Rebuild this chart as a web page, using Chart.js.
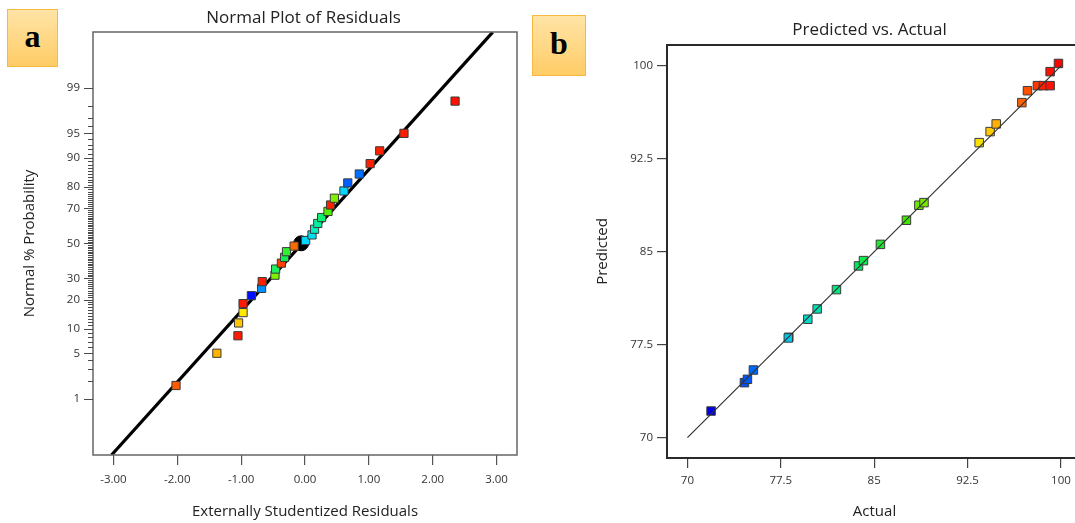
<!DOCTYPE html>
<html>
<head>
<meta charset="utf-8">
<script src="https://cdn.jsdelivr.net/npm/chart.js@4.4.1/dist/chart.umd.min.js"></script>
<style>
  html, body { margin: 0; padding: 0; background: #fff; width: 1075px; height: 523px; overflow: hidden; position: relative; }
  .panel { position: absolute; top: 0; }
  #panelA { left: 0; }
  #panelB { left: 580px; }
  .tag {
    position: absolute; box-sizing: border-box; z-index: 5;
    border: 1.5px solid #f6b941;
    background: linear-gradient(#ffe4a6, #ffcc66);
    font: bold 32px "Liberation Serif", "DejaVu Serif", serif; color: #000;
    display: flex; align-items: center; justify-content: center; padding-bottom: 4px;
  }
  #tagA { left: 7px; top: 9px; width: 51px; height: 58px; }
  #tagB { left: 532px; top: 15px; width: 54px; height: 61px; }
</style>
</head>
<body>
<div class="panel" id="panelA"><canvas id="normalPlot" width="540" height="523"></canvas></div>
<div class="panel" id="panelB"><canvas id="predActual" width="540" height="523"></canvas></div>
<div class="tag" id="tagA">a</div>
<div class="tag" id="tagB">b</div>
<script>
// ---------- (a) normal plot of residuals ----------
const residuals = [-2.02, -1.38, -1.05, -1.04, -0.97, -0.97, -0.84, -0.68, -0.67, -0.47,
                   -0.46, -0.37, -0.32, -0.29, -0.17, 0.01, 0.11, 0.15, 0.20, 0.26,
                   0.36, 0.40, 0.46, 0.61, 0.67, 0.85, 1.02, 1.17, 1.55, 2.35];
const normalPct = [1.67, 5.00, 8.33, 11.67, 15.00, 18.33, 21.67, 25.00, 28.33, 31.67,
                   35.00, 38.33, 41.67, 45.00, 48.33, 51.67, 55.00, 58.33, 61.67, 65.00,
                   68.33, 71.67, 75.00, 78.33, 81.67, 85.00, 88.33, 91.67, 95.00, 98.33];
const residualColors = ['#ff5a00', '#ffb300', '#ff1a00', '#ffc400', '#ffea00', '#ff1a00', '#0010ff', '#0090ff', '#ff2000', '#7ff000',
                        '#20f060', '#ff4000', '#10f050', '#30f030', '#ff6a00', '#00d8ff', '#00e0f0', '#00f0c0', '#00f0a0', '#10f070',
                        '#50f000', '#ff2000', '#80f000', '#00d8ff', '#0060ff', '#0070ff', '#ff2000', '#ff2000', '#ff2000', '#ff1000'];
const centerResidual = [-0.06];
const centerPct = [50];
const fitResidual = [-3.03, 2.94];
const fitPct = [0.077, 99.921];
const pctTicks = [1, 5, 10, 20, 30, 50, 70, 80, 90, 95, 99];
const residualTicks = [-3, -2, -1, 0, 1, 2, 3];

// ---------- (b) predicted vs actual ----------
const actual = [71.9, 74.58, 74.82, 75.3, 78.14, 78.1, 79.67, 80.42, 81.97, 83.74,
                84.14, 85.5, 87.59, 88.59, 89.0, 93.43, 94.31, 94.8, 96.86, 97.31,
                98.11, 98.59, 99.13, 99.13, 99.8];
const predicted = [72.15, 74.44, 74.71, 75.46, 78.1, 78.05, 79.56, 80.39, 81.95, 83.86,
                   84.29, 85.6, 87.55, 88.76, 88.97, 93.81, 94.7, 95.32, 97.04, 98.0,
                   98.41, 98.41, 98.41, 99.54, 100.2];
const actualColors = ['#0000e0', '#0050f0', '#0058f0', '#0068f8', '#00c0e0', '#00c8e8', '#00dcc8', '#00e0b0', '#00e880', '#00e860',
                      '#10e850', '#20e830', '#40e800', '#70e800', '#78e800', '#f8e000', '#ffc800', '#ffb000', '#ff6000', '#ff5000',
                      '#ff3800', '#ff2000', '#ff1000', '#ff1000', '#ff0000'];
const diagonal = [70, 100];
const responseTicks = [70, 77.5, 85, 92.5, 100];

const FONT = '"Open Sans", "Noto Sans", sans-serif';

// inverse normal CDF (Acklam), used for the probability axis
function probit(p) {
  const a = [-3.969683028665376e+01, 2.209460984245205e+02, -2.759285104469687e+02, 1.383577518672690e+02, -3.066479806614716e+01, 2.506628277459239e+00];
  const b = [-5.447609879822406e+01, 1.615858368580409e+02, -1.556989798598866e+02, 6.680131188771972e+01, -1.328068155288572e+01];
  const c = [-7.784894002430293e-03, -3.223964580411365e-01, -2.400758277161838e+00, -2.549732539343734e+00, 4.374664141464968e+00, 2.938163982698783e+00];
  const d = [7.784695709041462e-03, 3.224671290700398e-01, 2.445134137142996e+00, 3.754408661907416e+00];
  const lo = 0.02425, hi = 1 - lo;
  let q, r;
  if (p < lo) {
    q = Math.sqrt(-2 * Math.log(p));
    return (((((c[0]*q+c[1])*q+c[2])*q+c[3])*q+c[4])*q+c[5]) / ((((d[0]*q+d[1])*q+d[2])*q+d[3])*q+1);
  }
  if (p <= hi) {
    q = p - 0.5; r = q * q;
    return (((((a[0]*r+a[1])*r+a[2])*r+a[3])*r+a[4])*r+a[5])*q / (((((b[0]*r+b[1])*r+b[2])*r+b[3])*r+b[4])*r+1);
  }
  q = Math.sqrt(-2 * Math.log(1 - p));
  return -(((((c[0]*q+c[1])*q+c[2])*q+c[3])*q+c[4])*q+c[5]) / ((((d[0]*q+d[1])*q+d[2])*q+d[3])*q+1);
}
const toZ = pct => probit(pct / 100);

// ---------- plugins ----------
const frame = {
  id: 'frame',
  afterDatasetsDraw(chart, args, opts) {
    const { ctx, chartArea: a } = chart;
    ctx.save();
    ctx.strokeStyle = opts.color;
    ctx.lineWidth = opts.width;
    ctx.strokeRect(a.left, a.top, a.right - a.left, a.bottom - a.top);
    ctx.restore();
  }
};

const panelTitle = {
  id: 'panelTitle',
  afterDraw(chart, args, opts) {
    if (!opts.text) return;
    const { ctx, chartArea: a } = chart;
    ctx.save();
    ctx.font = opts.size + 'px ' + FONT;
    ctx.fillStyle = '#222';
    ctx.textAlign = 'center';
    ctx.textBaseline = 'middle';
    ctx.fillText(opts.text, (a.left + a.right) / 2 + opts.dx, opts.y);
    ctx.restore();
  }
};

// percent ticks 1..99 on the probability axis, longer where labelled
const probTicks = {
  id: 'probTicks',
  afterDraw(chart) {
    const { ctx, chartArea, scales: { y } } = chart;
    ctx.save();
    ctx.strokeStyle = '#4a4a4a';
    ctx.lineWidth = 1;
    for (let p = 1; p <= 99; p++) {
      const py = Math.round(y.getPixelForValue(toZ(p))) + 0.5;
      const len = pctTicks.includes(p) ? 9 : 5;
      ctx.beginPath();
      ctx.moveTo(chartArea.left - len, py);
      ctx.lineTo(chartArea.left, py);
      ctx.stroke();
    }
    ctx.restore();
  }
};

Chart.register(frame, panelTitle);

const squarePoint = { pointStyle: 'rect', borderColor: '#3a3a3a', borderWidth: 1 };

// ---------- chart a ----------
new Chart(document.getElementById('normalPlot'), {
  type: 'scatter',
  data: {
    datasets: [
      {
        ...squarePoint,
        data: residuals.map((r, i) => ({ x: r, y: toZ(normalPct[i]) })),
        backgroundColor: residualColors,
        pointRadius: 5.8,
        order: 0
      },
      {
        data: centerResidual.map((r, i) => ({ x: r, y: toZ(centerPct[i]) })),
        backgroundColor: '#000',
        borderColor: '#000',
        pointRadius: 7.5,
        order: 1
      },
      {
        data: fitResidual.map((r, i) => ({ x: r, y: toZ(fitPct[i]) })),
        showLine: true,
        borderColor: '#000',
        borderWidth: 3.2,
        pointRadius: 0,
        order: 2
      }
    ]
  },
  options: {
    responsive: false,
    animation: false,
    events: [],
    layout: { padding: { top: 32, right: 23, left: 0, bottom: 0 } },
    plugins: {
      legend: { display: false },
      tooltip: { enabled: false },
      frame: { color: '#666', width: 1.5 },
      panelTitle: { text: 'Normal Plot of Residuals', size: 17, dx: -1.5, y: 18 }
    },
    scales: {
      x: {
        type: 'linear', min: -3.32, max: 3.32, bounds: 'data',
        afterBuildTicks: s => { s.ticks = residualTicks.map(v => ({ value: v })); },
        afterFit: s => { s.height = 68; },
        border: { display: false },
        grid: { drawOnChartArea: false, drawTicks: true, tickLength: 10, color: '#555', lineWidth: 1.2 },
        ticks: { autoSkip: false, maxRotation: 0, padding: 8, color: '#333', font: { family: FONT, size: 11.5 },
                 callback: v => v.toFixed(2) },
        title: { display: true, text: 'Externally Studentized Residuals', color: '#222',
                 font: { family: FONT, size: 15 }, padding: { top: 0, bottom: 2 } }
      },
      y: {
        type: 'linear', min: -3.167, max: 3.161, bounds: 'data',
        afterBuildTicks: s => { s.ticks = pctTicks.map(p => ({ value: toZ(p) })); },
        afterFit: s => { s.width = 93; },
        border: { display: false },
        grid: { drawOnChartArea: false, drawTicks: false },
        ticks: { autoSkip: false, padding: 13, color: '#333', font: { family: FONT, size: 11.5 },
                 callback: (v, i) => String(pctTicks[i]) },
        title: { display: true, text: 'Normal % Probability', color: '#222',
                 font: { family: FONT, size: 15 }, padding: { top: 21, bottom: 0 } }
      }
    }
  },
  plugins: [probTicks]
});

// ---------- chart b ----------
new Chart(document.getElementById('predActual'), {
  type: 'scatter',
  data: {
    datasets: [
      {
        data: diagonal.map(v => ({ x: v, y: v })),
        showLine: true,
        borderColor: '#333',
        borderWidth: 1.2,
        pointRadius: 0,
        order: 0
      },
      {
        ...squarePoint,
        data: actual.map((a, i) => ({ x: a, y: predicted[i] })),
        backgroundColor: actualColors,
        pointRadius: 6,
        order: 1
      }
    ]
  },
  options: {
    responsive: false,
    animation: false,
    events: [],
    layout: { padding: { top: 45, right: 38, left: 0, bottom: 0 } },
    plugins: {
      legend: { display: false },
      tooltip: { enabled: false },
      frame: { color: '#2a2a2a', width: 2 },
      panelTitle: { text: 'Predicted vs. Actual', size: 17, dx: -5, y: 30 }
    },
    scales: {
      x: {
        type: 'linear', min: 68.36, max: 101.69, bounds: 'data',
        afterBuildTicks: s => { s.ticks = responseTicks.map(v => ({ value: v })); },
        afterFit: s => { s.height = 65; },
        border: { display: false },
        grid: { drawOnChartArea: false, drawTicks: true, tickLength: 10, color: '#444', lineWidth: 1.2 },
        ticks: { autoSkip: false, maxRotation: 0, padding: 6, color: '#333', font: { family: FONT, size: 11.5 },
                 callback: v => String(v) },
        title: { display: true, text: 'Actual', color: '#222',
                 font: { family: FONT, size: 15 }, padding: { top: 0, bottom: 2 } }
      },
      y: {
        type: 'linear', min: 68.36, max: 101.69, bounds: 'data',
        afterBuildTicks: s => { s.ticks = responseTicks.map(v => ({ value: v })); },
        afterFit: s => { s.width = 87; },
        border: { display: false },
        grid: { drawOnChartArea: false, drawTicks: true, tickLength: 10, color: '#444', lineWidth: 1.2 },
        ticks: { autoSkip: false, padding: 4, color: '#333', font: { family: FONT, size: 11.5 },
                 callback: v => String(v) },
        title: { display: true, text: 'Predicted', color: '#222',
                 font: { family: FONT, size: 15 }, padding: { top: 14, bottom: 0 } }
      }
    }
  }
});
</script>
</body>
</html>
